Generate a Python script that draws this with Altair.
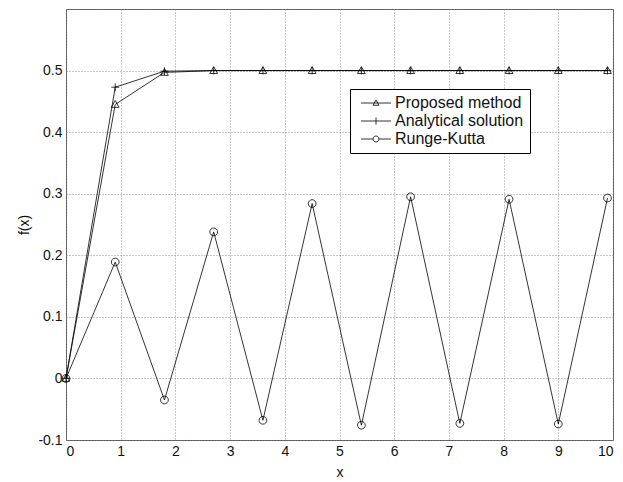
import altair as alt
import pandas as pd
import math

x_vals = [0, 0.9, 1.8, 2.7, 3.6, 4.5, 5.4, 6.3, 7.2, 8.1, 9.0, 9.9]
proposed = [0, 0.445, 0.497, 0.5, 0.5, 0.5, 0.5, 0.5, 0.5, 0.5, 0.5, 0.5]
analytical = [0, 0.473, 0.499, 0.5, 0.5, 0.5, 0.5, 0.5, 0.5, 0.5, 0.5, 0.5]
runge_kutta = [0, 0.189, -0.035, 0.238, -0.068, 0.284, -0.076, 0.295, -0.073, 0.291, -0.074, 0.293]
series_names = ["Proposed method", "Analytical solution", "Runge-Kutta"]
x_ticks = [0, 1, 2, 3, 4, 5, 6, 7, 8, 9, 10]
y_ticks = [-0.1, 0, 0.1, 0.2, 0.3, 0.4, 0.5, 0.6]

rows = []
for name, ys in zip(series_names, [proposed, analytical, runge_kutta]):
    for i, (xv, yv) in enumerate(zip(x_vals, ys)):
        rows.append({"x": xv, "y": yv, "series": name, "i": i})
df = pd.DataFrame(rows)

FONT = "Liberation Sans"


def circle_path(r):
    return " ".join(
        f"{'M' if k == 0 else 'L'}{r*math.cos(2*math.pi*k/16):.3f},{r*math.sin(2*math.pi*k/16):.3f}"
        for k in range(16)
    ) + "Z"


# marker shapes for plot
tri_plot = "M0,-1L1,0.75L-1,0.75Z"
plus_plot = "M-1,0H1M0,-1V1"
circ_plot = circle_path(1)

# legend symbols (unit = sqrt(size)/2 px)
tri_leg = "M-3,0H3M0,-0.6L0.6,0.45L-0.6,0.45Z"
plus_leg = "M-3,0H3M0,-0.7V0.7"
circ_leg = "M-3,0H-0.6M0.6,0H3" + circle_path(0.6)

xscale = alt.Scale(domain=[0, 10], nice=False, zero=False)
yscale = alt.Scale(domain=[-0.1, 0.6], nice=False, zero=False)

xaxis = alt.Axis(
    values=x_ticks, title="x", grid=True, gridDash=[1, 2], gridColor="#888",
    gridOpacity=0.9, ticks=False, labelPadding=4, labelFontSize=14, titleFontSize=14,
    labelFont=FONT, titleFont=FONT, labelColor="#111", titleColor="#111",
    titleFontWeight="normal", domain=False, titlePadding=7,
)
yaxis = alt.Axis(
    values=y_ticks, title="f(x)", grid=True, gridDash=[1, 2], gridColor="#888",
    gridOpacity=0.9, ticks=False, labelPadding=4, labelFontSize=14, titleFontSize=14,
    labelFont=FONT, titleFont=FONT, labelColor="#111", titleColor="#111",
    titleFontWeight="normal", domain=False, titlePadding=6,
    labelExpr=(
        "datum.value >= 0.55 ? '' : (abs(datum.value) < 1e-9 ? '0' : "
        "(datum.value < 0 ? '-' + format(-datum.value, '.1f') : format(datum.value, '.1f')))"
    ),
)

base = alt.Chart(df)

lines = base.mark_line(color="black", strokeWidth=0.8).encode(
    x=alt.X("x:Q", scale=xscale, axis=xaxis),
    y=alt.Y("y:Q", scale=yscale, axis=yaxis),
    detail="series:N",
    order="i:O",
)

points = base.mark_point(filled=False, color="black", strokeWidth=0.8, size=60, opacity=1).encode(
    x=alt.X("x:Q", scale=xscale),
    y=alt.Y("y:Q", scale=yscale),
    shape=alt.Shape(
        "series:N",
        scale=alt.Scale(domain=series_names, range=[tri_plot, plus_plot, circ_plot]),
        legend=None,
    ),
)

legend_layer = base.mark_point(filled=False, color="black", strokeWidth=0.8, opacity=0).encode(
    shape=alt.Shape(
        "series:N",
        scale=alt.Scale(domain=series_names, range=[tri_leg, plus_leg, circ_leg]),
        legend=alt.Legend(
            title=None,
            orient="none",
            legendX=284,
            legendY=80,
            strokeColor="black",
            fillColor="white",
            padding=6,
            symbolSize=100,
            symbolOffset=12,
            labelOffset=11,
            symbolStrokeColor="black",
            symbolFillColor="transparent",
            symbolStrokeWidth=0.8,
            symbolOpacity=1,
            labelFontSize=16,
            labelFont=FONT,
            labelColor="#111",
            rowPadding=2,
            labelLimit=300,
        ),
    ),
)

chart = (
    alt.layer(lines, points, legend_layer)
    .resolve_scale(shape="independent")
    .resolve_legend(shape="independent")
    .properties(
        width=547,
        height=431,
        autosize=alt.AutoSizeParams(type="none"),
        padding={"left": 66, "top": 9, "right": 10, "bottom": 42},
        background="white",
    )
    .configure_view(stroke="#555", strokeWidth=1)
)

chart.save("out.html", embed_options={"renderer": "svg", "actions": False})
